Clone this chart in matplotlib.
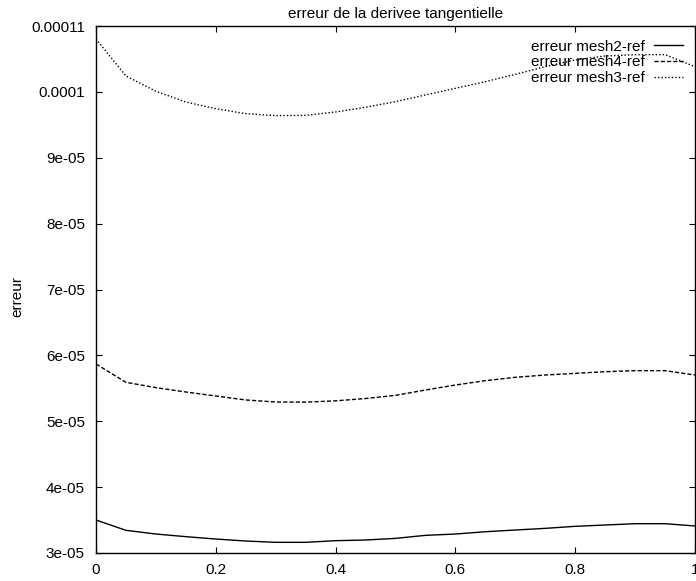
import matplotlib
matplotlib.use("Agg")
import matplotlib.pyplot as plt

plt.rcParams['font.family'] = ['Liberation Sans', 'DejaVu Sans']

# abscisse (pas de 0.05)
x = [0.0, 0.05, 0.1, 0.15, 0.2, 0.25, 0.3, 0.35, 0.4, 0.45, 0.5,
     0.55, 0.6, 0.65, 0.7, 0.75, 0.8, 0.85, 0.9, 0.95, 1.0]

# erreurs
err_mesh2 = [3.501e-05, 3.344e-05, 3.288e-05, 3.248e-05, 3.212e-05, 3.182e-05, 3.162e-05,
             3.162e-05, 3.187e-05, 3.197e-05, 3.222e-05, 3.268e-05, 3.288e-05, 3.323e-05,
             3.349e-05, 3.374e-05, 3.405e-05, 3.425e-05, 3.445e-05, 3.445e-05, 3.41e-05]
err_mesh4 = [5.869e-05, 5.591e-05, 5.51e-05, 5.444e-05, 5.383e-05, 5.323e-05, 5.292e-05,
             5.29e-05, 5.31e-05, 5.345e-05, 5.393e-05, 5.474e-05, 5.55e-05, 5.616e-05,
             5.667e-05, 5.702e-05, 5.727e-05, 5.752e-05, 5.768e-05, 5.768e-05, 5.702e-05]
err_mesh3 = [1.0803e-04, 1.0241e-04, 1.0009e-04, 0.9846e-04, 0.9745e-04, 0.9669e-04, 0.9639e-04,
             0.9644e-04, 0.9695e-04, 0.9766e-04, 0.9851e-04, 0.9953e-04, 1.0054e-04, 1.0155e-04,
             1.0266e-04, 1.0383e-04, 1.0484e-04, 1.0545e-04, 1.0565e-04, 1.0565e-04, 1.0383e-04]

xticks = [0, 0.2, 0.4, 0.6, 0.8, 1]
xticklabels = ["0", "0.2", "0.4", "0.6", "0.8", "1"]
yticks = [3e-05, 4e-05, 5e-05, 6e-05, 7e-05, 8e-05, 9e-05, 1e-04, 1.1e-04]
yticklabels = ["3e-05", "4e-05", "5e-05", "6e-05", "7e-05", "8e-05", "9e-05", "0.0001", "0.00011"]

fig = plt.figure(figsize=(6.96, 5.81), dpi=100)
ax = fig.add_axes([96 / 696, 28 / 581, 599 / 696, 527 / 581])

ax.plot(x, err_mesh2, color='black', lw=1.0, ls='-', label='erreur mesh2-ref')
ax.plot(x, err_mesh4, color='black', lw=1.0, ls=(0, (3, 1.5)), label='erreur mesh4-ref')
ax.plot(x, err_mesh3, color='black', lw=1.0, ls=(0, (1, 1.5)), label='erreur mesh3-ref')

ax.set_xlim(0, 1)
ax.set_ylim(3e-05, 1.1e-04)
ax.set_xticks(xticks)
ax.set_xticklabels(xticklabels)
ax.set_yticks(yticks)
ax.set_yticklabels(yticklabels)
ax.tick_params(direction='in', length=4, width=0.8, top=True, right=True,
               labelsize=11, colors='black')
ax.tick_params(axis='x', pad=7)
ax.tick_params(axis='y', pad=8)
for s in ax.spines.values():
    s.set_linewidth(1.0)

ax.set_title('erreur de la derivee tangentielle', fontsize=11, pad=6)
ax.set_ylabel('erreur', fontsize=11)
ax.yaxis.set_label_coords(-0.119, 0.486)

# legende facon gnuplot : texte puis echantillon de trait
ax.legend(loc='upper right', bbox_to_anchor=(0.98, 0.974), frameon=False,
          markerfirst=False, fontsize=11, handlelength=1.9, handletextpad=0.6,
          labelspacing=0.11, borderpad=0, borderaxespad=0)

fig.savefig('out.png', dpi=100)
